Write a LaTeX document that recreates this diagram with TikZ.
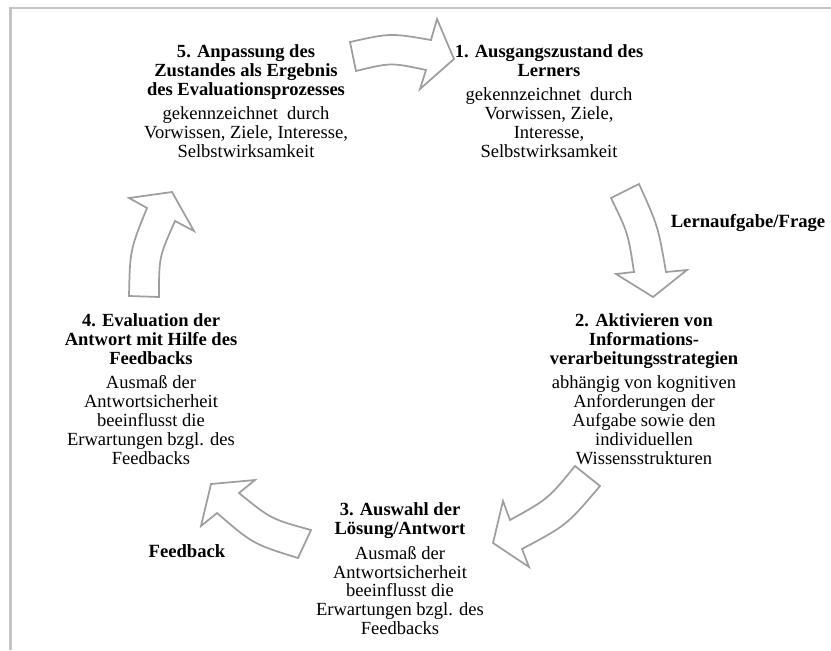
\documentclass[tikz,border=0pt]{standalone}
\usepackage{fontspec}
\setmainfont{Liberation Serif}
\definecolor{framegray}{HTML}{C4C4C4}
\definecolor{arrowgray}{HTML}{9E9E9E}
\tikzset{
  stagetext/.style={align=center, inner sep=0pt, font=\fontsize{13.9}{14.2}\selectfont},
  labeltext/.style={inner sep=0pt, font=\fontsize{14}{14.2}\selectfont\bfseries},
  blockarrow/.style={draw=arrowgray, fill=white, line width=1.3pt, line join=miter},
  frameline/.style={draw=framegray, line width=1.6pt}
}
\begin{document}
\begin{tikzpicture}[x=0.75pt, y=-0.75pt]
  \useasboundingbox (0,0) rectangle (831,650);
  % open frame along the top and left edge
  \draw[frameline] (10.5,650) -- (10.5,8) -- (831,8);

  % curved block arrows of the cycle
  % 5 -> 1
  \draw[blockarrow] (350,42) .. controls (390.5,33) .. (431,40) -- (437,19) -- (454,59)
    -- (420,89) -- (426,70) .. controls (391,62.5) .. (356,71) -- cycle;
  % 1 -> 2
  \draw[blockarrow] (611,198) -- (639,184) .. controls (658,226) .. (666,272) -- (687,270)
    -- (653,297) -- (616,274) -- (634,272) .. controls (628,233) .. (611,198) -- cycle;
  % 2 -> 3
  \draw[blockarrow] (575,466) -- (600,486) .. controls (567,525) .. (522,549) -- (529,567)
    -- (493,543) -- (503,501) -- (510,520) .. controls (548,499) .. (575,466) -- cycle;
  % 3 -> 4
  \draw[blockarrow] (298,558) -- (311,530) .. controls (271,519) .. (239,493) -- (255,480)
    -- (211,484) -- (201,526) -- (217,513) .. controls (253,544) .. (298,558) -- cycle;
  % 4 -> 5
  \draw[blockarrow] (129,296) .. controls (130,250) .. (147,208) -- (129,198) -- (172,192)
    -- (194,231) -- (175,221) .. controls (159,257) .. (159,297) -- cycle;

  % stages
  \node[stagetext] (s5) at (246,101) {\textbf{5. Anpassung des}\\\textbf{Zustandes als Ergebnis}\\\textbf{des Evaluationsprozesses}\\[4pt]
    gekennzeichnet~ durch\\Vorwissen, Ziele, Interesse,\\Selbstwirksamkeit};
  \node[stagetext] (s1) at (549,101) {\textbf{1. Ausgangszustand des}\\\textbf{Lerners}\\[4pt]
    gekennzeichnet~ durch\\Vorwissen, Ziele,\\Interesse,\\Selbstwirksamkeit};
  \node[stagetext] (s2) at (644,389) {\textbf{2. Aktivieren von}\\\textbf{Informations-}\\\textbf{verarbeitungsstrategien}\\[4pt]
    abhängig von kognitiven\\Anforderungen der\\Aufgabe sowie den\\individuellen\\Wissensstrukturen};
  \node[stagetext] (s4) at (151,389) {\textbf{4. Evaluation der}\\\textbf{Antwort mit Hilfe des}\\\textbf{Feedbacks}\\[4pt]
    Ausmaß der\\Antwortsicherheit\\beeinflusst die\\Erwartungen bzgl. des\\Feedbacks};
  \node[stagetext] (s3) at (400,569) {\textbf{3. Auswahl der}\\\textbf{Lösung/Antwort}\\[4pt]
    Ausmaß der\\Antwortsicherheit\\beeinflusst die\\Erwartungen bzgl. des\\Feedbacks};

  % arrow labels
  \node[labeltext] (task) at (748,223) {Lernaufgabe/Frage};
  \node[labeltext] (fb) at (187,551) {Feedback};
\end{tikzpicture}
\end{document}
